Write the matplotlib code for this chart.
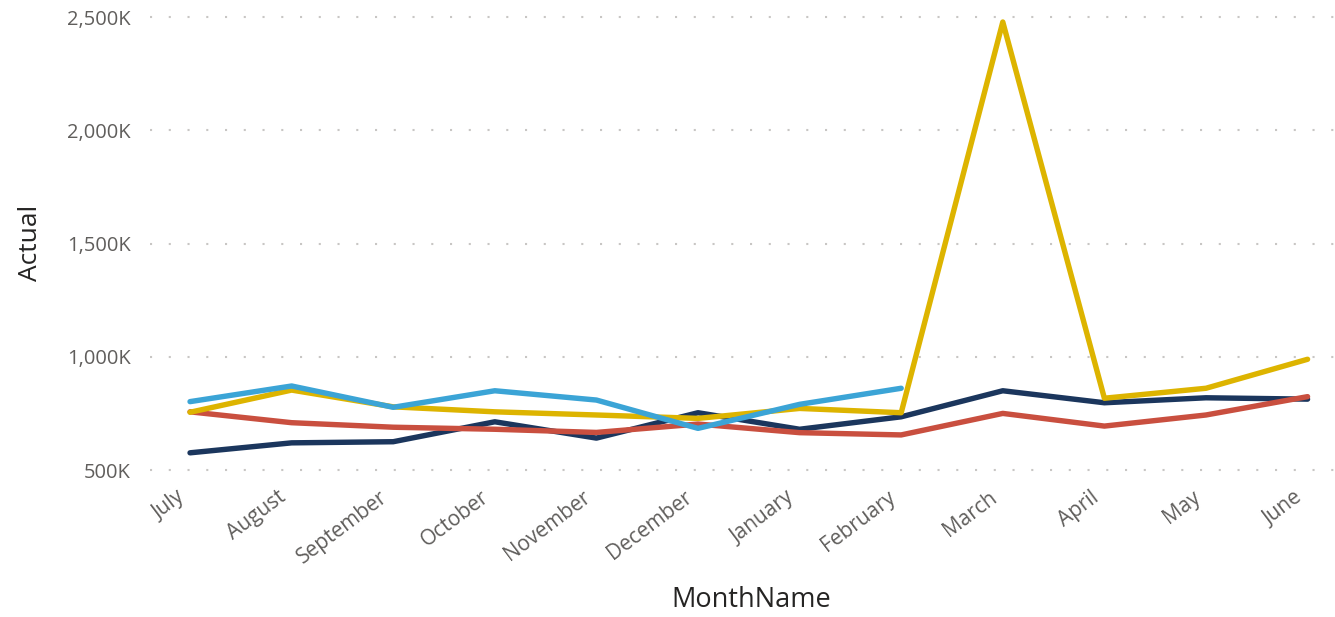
import numpy as np
import matplotlib
matplotlib.use("Agg")
import matplotlib.pyplot as plt
import matplotlib.transforms as mtransforms
from matplotlib.ticker import FuncFormatter

months = ["July", "August", "September", "October", "November", "December",
          "January", "February", "March", "April", "May", "June"]

# values in K
navy = [576, 620, 625, 713, 641, 753, 680, 735, 850, 797, 819, 813]
red = [757, 709, 689, 680, 666, 703, 665, 655, 750, 694, 743, 824]
yellow = [755, 853, 779, 757, 743, 728, 772, 753, 2478, 817, 861, 989]
blue = [802, 871, 777, 850, 809, 684, 790, 861, None, None, None, None]

yticks = [500, 1000, 1500, 2000, 2500]

plt.rcParams['font.family'] = ['Open Sans', 'DejaVu Sans']

fig = plt.figure(figsize=(13.35, 6.17), dpi=100)
ax = fig.add_axes([150 / 1335, 137 / 617, 1185 / 1335, 470 / 617])

x = np.arange(len(months))
lw = 3.9
ax.plot(x, navy, color="#1B365D", lw=lw, solid_capstyle="round", solid_joinstyle="round")
ax.plot(x, red, color="#C94F3F", lw=lw, solid_capstyle="round", solid_joinstyle="round")
ax.plot(x, yellow, color="#DDB400", lw=lw, solid_capstyle="round", solid_joinstyle="round")
b = np.array([np.nan if v is None else v for v in blue], dtype=float)
ax.plot(x, b, color="#3BA4D6", lw=lw, solid_capstyle="round", solid_joinstyle="round")

ax.set_xlim(-0.394, 11.27)
ax.set_ylim(456, 2531)
ax.set_yticks(yticks)
ax.yaxis.set_major_formatter(FuncFormatter(lambda v, p: f"{int(v):,}K"))
ax.grid(axis="y", color="#C8C6C4", linestyle=(0, (1, 8)), linewidth=1.5)
ax.set_axisbelow(True)
for s in ax.spines.values():
    s.set_visible(False)
ax.tick_params(length=0)
ax.tick_params(axis="y", labelsize=14.5, labelcolor="#605E5C", pad=14)
ax.set_xticks(x)
ax.set_xticklabels(months, rotation=37, ha="right", rotation_mode="anchor",
                   fontsize=15, color="#605E5C")
ax.tick_params(axis="x", pad=5)
off = mtransforms.ScaledTranslation(-14 / 100, 0, fig.dpi_scale_trans)
for lab in ax.get_xticklabels():
    lab.set_transform(lab.get_transform() + off)

ax.set_ylabel("Actual", fontsize=19, color="#252423", va="center", ha="center")
ax.yaxis.set_label_coords(-0.101, 0.504)
ax.set_xlabel("MonthName", fontsize=19.5, color="#252423", va="center", ha="center")
ax.xaxis.set_label_coords(0.507, -0.255)

fig.savefig("out.png", dpi=100)
